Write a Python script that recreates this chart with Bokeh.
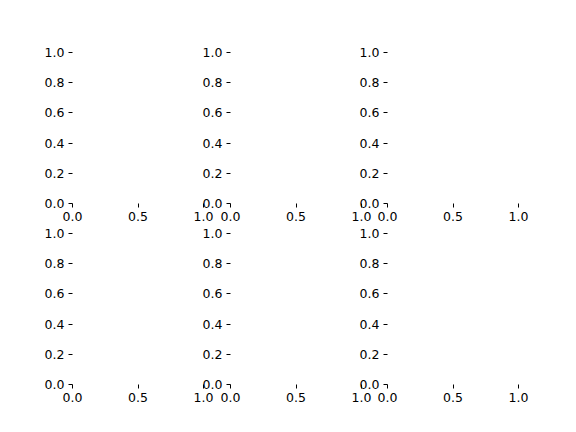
from bokeh.plotting import figure
from bokeh.layouts import row, column
from bokeh.models import Range1d, FixedTicker
from bokeh.embed import file_html
from bokeh.resources import INLINE

# Tick values and labels (empty 2x3 grid of axes)
x_ticks = [0.0, 0.5, 1.0]
x_tick_labels = ["0.0", "0.5", "1.0"]
y_ticks = [0.0, 0.2, 0.4, 0.6, 0.8, 1.0]
y_tick_labels = ["0.0", "0.2", "0.4", "0.6", "0.8", "1.0"]
n_rows, n_cols = 2, 3

FONT = "DejaVu Sans"
FS = "12.5px"
FRAME_W, FRAME_H = 131, 151


def make_fig(r, c):
    left = 72 if c == 0 else 40
    right = 14
    top = 52 if r == 0 else 8
    bottom = 22 if r == 0 else 30
    p = figure(width=left + FRAME_W + right, height=top + FRAME_H + bottom,
               x_range=Range1d(0, 1), y_range=Range1d(0, 1),
               output_backend="svg", toolbar_location=None,
               min_border_left=left, min_border_right=right,
               min_border_top=top, min_border_bottom=bottom)
    p.outline_line_color = None
    p.xgrid.visible = False
    p.ygrid.visible = False
    p.background_fill_color = None
    p.border_fill_color = None
    for ax, ticks, labels in ((p.xaxis[0], x_ticks, x_tick_labels),
                              (p.yaxis[0], y_ticks, y_tick_labels)):
        ax.ticker = FixedTicker(ticks=ticks)
        ax.major_label_overrides = {t: l for t, l in zip(ticks, labels)}
        ax.axis_line_color = None
        ax.minor_tick_line_color = None
        ax.major_tick_in = 0
        ax.major_tick_out = 4
        ax.major_tick_line_color = "black"
        ax.major_tick_line_width = 1
        ax.major_label_text_font = FONT
        ax.major_label_text_font_size = FS
        ax.major_label_text_color = "black"
        ax.major_label_standoff = 4
    if c == 1:
        p.margin = (0, 0, 0, -27)
    elif c == 2:
        p.margin = (0, 0, 0, -28)
    return p


rows = []
for r in range(n_rows):
    rows.append(row(*[make_fig(r, c) for c in range(n_cols)]))
layout = column(*rows)

open("out.html", "w").write(file_html(layout, INLINE))
